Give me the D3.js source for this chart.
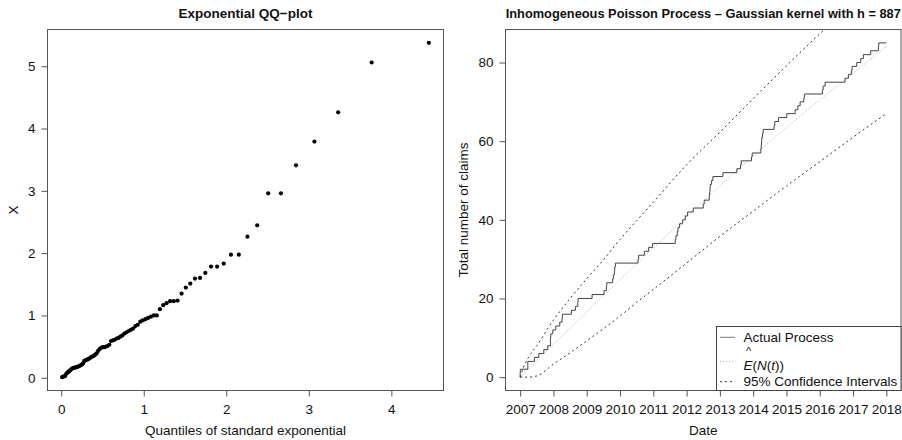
<!DOCTYPE html>
<html>
<head>
<meta charset="utf-8">
<script src="https://cdn.jsdelivr.net/npm/d3@7"></script>
<style>
  body { margin: 0; background: #fff; }
  text { font-family: "Liberation Sans", Arial, Helvetica, sans-serif; fill: #111; }
</style>
</head>
<body>
<div id="chart"></div>
<script>
// left panel: exponential quantiles vs sorted scaled claims
const qqTheoretical = [0.0117, 0.0235, 0.0355, 0.0476, 0.0599, 0.0723, 0.0849, 0.0976, 0.1105, 0.1236,
  0.1369, 0.1503, 0.1639, 0.1777, 0.1917, 0.2059, 0.2202, 0.2348, 0.2497, 0.2647,
  0.2800, 0.2955, 0.3112, 0.3272, 0.3435, 0.3600, 0.3768, 0.3939, 0.4113, 0.4290,
  0.4470, 0.4654, 0.4841, 0.5031, 0.5225, 0.5423, 0.5625, 0.5832, 0.6042, 0.6257,
  0.6477, 0.6702, 0.6932, 0.7167, 0.7408, 0.7655, 0.7908, 0.8168, 0.8434, 0.8708,
  0.8990, 0.9280, 0.9578, 0.9886, 1.0204, 1.0532, 1.0871, 1.1222, 1.1585, 1.1963,
  1.2355, 1.2763, 1.3189, 1.3633, 1.4098, 1.4586, 1.5099, 1.5640, 1.6211, 1.6818,
  1.7463, 1.8153, 1.8894, 1.9694, 2.0565, 2.1518, 2.2571, 2.3749, 2.5084, 2.6626,
  2.8449, 3.0681, 3.3557, 3.7612, 4.4543];
const qqSample = [0.01, 0.02, 0.02, 0.03, 0.06, 0.08, 0.09, 0.11, 0.12, 0.14,
  0.15, 0.16, 0.16, 0.17, 0.17, 0.18, 0.19, 0.20, 0.21, 0.23,
  0.27, 0.28, 0.29, 0.30, 0.31, 0.33, 0.34, 0.35, 0.37, 0.39,
  0.43, 0.46, 0.48, 0.49, 0.49, 0.50, 0.51, 0.53, 0.59, 0.60,
  0.61, 0.63, 0.64, 0.66, 0.68, 0.71, 0.73, 0.75, 0.77, 0.79,
  0.83, 0.85, 0.90, 0.92, 0.94, 0.96, 0.98, 1.00, 1.00, 1.10,
  1.165, 1.197, 1.229, 1.229, 1.239, 1.351, 1.447, 1.512, 1.592, 1.603,
  1.683, 1.784, 1.784, 1.832, 1.976, 1.976, 2.264, 2.447, 2.96, 2.96,
  3.41, 3.79, 4.26, 5.06, 5.375];
const qqXTicks = [0, 1, 2, 3, 4];
const qqYTicks = [0, 1, 2, 3, 4, 5];

// right panel: claim arrival times (decimal years)
const claimTimes = [2007.00, 2007.005, 2007.23, 2007.23, 2007.43, 2007.56, 2007.71, 2007.83, 2007.91, 2007.91,
  2007.92, 2007.98, 2008.07, 2008.19, 2008.26, 2008.27, 2008.54, 2008.66, 2008.73, 2008.74,
  2009.16, 2009.52, 2009.59, 2009.60, 2009.78, 2009.80, 2009.83, 2009.84, 2009.86, 2010.54,
  2010.56, 2010.73, 2010.86, 2010.98, 2011.66, 2011.68, 2011.72, 2011.74, 2011.79, 2011.88,
  2011.96, 2012.03, 2012.20, 2012.50, 2012.53, 2012.68, 2012.69, 2012.70, 2012.71, 2012.75,
  2012.79, 2013.09, 2013.51, 2013.62, 2013.64, 2013.95, 2013.97, 2014.23, 2014.24, 2014.25,
  2014.26, 2014.28, 2014.30, 2014.63, 2014.65, 2014.76, 2015.01, 2015.26, 2015.34, 2015.41,
  2015.52, 2015.54, 2016.08, 2016.10, 2016.16, 2016.76, 2016.86, 2016.95, 2016.97, 2017.11,
  2017.23, 2017.31, 2017.53, 2017.76, 2017.77];
const processEnd = 2018.0;
const fitYears = [2007, 2008, 2009, 2010, 2011, 2012, 2013, 2014, 2015, 2016, 2017, 2018];
const fitMean = [0, 8.3, 16.6, 24.8, 32.8, 40.8, 48.6, 56.2, 63.5, 70.5, 77.3, 84.0];
const ciYears = [2007, 2007.1, 2007.25, 2007.5, 2008, 2008.5, 2009, 2009.5, 2010, 2010.5,
  2011, 2012, 2013, 2014, 2015, 2016, 2017, 2018];
const ciUpper = [0, 2.5, 5, 8, 14.5, 20, 25, 29.8, 35, 39.8, 44.5, 54, 62.3, 70.8, 79.2, 87.3, 95, 102.5];
const ciLower = [0, 0, 0, 0.3, 3.3, 6.2, 9.2, 12.3, 15.5, 19, 22.3, 29, 35.8, 42.2, 48.6, 54.8, 61, 67];
const yearTicks = [2007, 2008, 2009, 2010, 2011, 2012, 2013, 2014, 2015, 2016, 2017, 2018];
const countTicks = [0, 20, 40, 60, 80];

const W = 902, H = 440;
const svg = d3.select("#chart").append("svg").attr("width", W).attr("height", H);

// R style range: data extent widened by 4% each side
function padded(ext) {
  let p = (ext[1] - ext[0]) * 0.04;
  return [ext[0] - p, ext[1] + p];
}

function drawAxes(g, box, x, y, xt, yt) {
  g.append("g")
    .attr("transform", "translate(0," + box.y1 + ")")
    .call(d3.axisBottom(x).tickValues(xt).tickSize(6).tickSizeOuter(0).tickPadding(8).tickFormat(d3.format("d")))
    .call(a => a.select(".domain").remove());
  g.append("g")
    .attr("transform", "translate(" + box.x0 + ",0)")
    .call(d3.axisLeft(y).tickValues(yt).tickSize(6).tickSizeOuter(0).tickPadding(6).tickFormat(d3.format("d")))
    .call(a => a.select(".domain").remove());
  g.selectAll(".tick line").attr("stroke", "#555");
  g.selectAll(".tick text").attr("font-size", "13.5px").attr("fill", "#111")
    .style("font-family", "'Liberation Sans', Arial, sans-serif");
  g.append("rect")
    .attr("x", box.x0).attr("y", box.y0)
    .attr("width", box.x1 - box.x0).attr("height", box.y1 - box.y0)
    .attr("fill", "none").attr("stroke", "#555");
}

// ---- left: QQ plot ----
const boxL = {x0: 47.5, x1: 443.5, y0: 29.5, y1: 390.5};
const xL = d3.scaleLinear().domain(padded(d3.extent(qqTheoretical))).range([boxL.x0, boxL.x1]);
const yL = d3.scaleLinear().domain(padded(d3.extent(qqSample))).range([boxL.y1, boxL.y0]);
const gL = svg.append("g");
drawAxes(gL, boxL, xL, yL, qqXTicks, qqYTicks);

gL.selectAll("circle")
  .data(qqTheoretical.map((q, i) => [q, qqSample[i]]))
  .enter().append("circle")
  .attr("cx", d => xL(d[0]))
  .attr("cy", d => yL(d[1]))
  .attr("r", 2.1)
  .attr("fill", "#000");

gL.append("text").attr("x", (boxL.x0 + boxL.x1) / 2).attr("y", 18)
  .attr("text-anchor", "middle").attr("font-size", "13.5px").attr("font-weight", "bold")
  .text("Exponential QQ\u2212plot");
gL.append("text").attr("x", (boxL.x0 + boxL.x1) / 2).attr("y", 435)
  .attr("text-anchor", "middle").attr("font-size", "13.5px")
  .text("Quantiles of standard exponential");
gL.append("text").attr("transform", "translate(17.5," + (boxL.y0 + boxL.y1) / 2 + ")rotate(-90)")
  .attr("text-anchor", "middle").attr("font-size", "13.5px")
  .text("X");

// ---- right: inhomogeneous Poisson process ----
const boxR = {x0: 505.5, x1: 901, y0: 29.5, y1: 390.5};
const steps = [[claimTimes[0], 0]].concat(claimTimes.map((t, i) => [t, i + 1]), [[processEnd, claimTimes.length]]);
const xR = d3.scaleLinear().domain(padded([claimTimes[0], processEnd])).range([boxR.x0, boxR.x1]);
const yR = d3.scaleLinear().domain(padded([0, claimTimes.length])).range([boxR.y1, boxR.y0]);
const gR = svg.append("g");

svg.append("defs").append("clipPath").attr("id", "clipR")
  .append("rect").attr("x", boxR.x0).attr("y", boxR.y0)
  .attr("width", boxR.x1 - boxR.x0).attr("height", boxR.y1 - boxR.y0);

const lines = gR.append("g").attr("clip-path", "url(#clipR)");
const smooth = d3.line().x(d => xR(d[0])).y(d => yR(d[1])).curve(d3.curveMonotoneX);

lines.append("path")
  .attr("d", smooth(fitYears.map((t, i) => [t, fitMean[i]])))
  .attr("fill", "none").attr("stroke", "#aaa").attr("stroke-width", 1).attr("stroke-dasharray", "1,2");
[ciUpper, ciLower].forEach(ci => {
  lines.append("path")
    .attr("d", smooth(ciYears.map((t, i) => [t, ci[i]])))
    .attr("fill", "none").attr("stroke", "#333").attr("stroke-width", 1).attr("stroke-dasharray", "2,3");
});
lines.append("path")
  .attr("d", d3.line().x(d => xR(d[0])).y(d => yR(d[1])).curve(d3.curveStepAfter)(steps))
  .attr("fill", "none").attr("stroke", "#444").attr("stroke-width", 1);

drawAxes(gR, boxR, xR, yR, yearTicks, countTicks);

gR.append("text").attr("x", (boxR.x0 + boxR.x1) / 2).attr("y", 18)
  .attr("text-anchor", "middle").attr("font-size", "12.8px").attr("font-weight", "bold")
  .text("Inhomogeneous Poisson Process \u2013 Gaussian kernel with h = 887");
gR.append("text").attr("x", (boxR.x0 + boxR.x1) / 2).attr("y", 435)
  .attr("text-anchor", "middle").attr("font-size", "13.5px")
  .text("Date");
gR.append("text").attr("transform", "translate(468," + (boxR.y0 + boxR.y1) / 2 + ")rotate(-90)")
  .attr("text-anchor", "middle").attr("font-size", "13.5px")
  .text("Total number of claims");

// legend
const leg = gR.append("g");
leg.append("rect").attr("x", 716.5).attr("y", 326.5).attr("width", 184.5).attr("height", 64)
  .attr("fill", "#fff").attr("stroke", "#444");
const legRows = [
  {y: 337.3, stroke: "#777", dash: null},
  {y: 361.7, stroke: "#aaa", dash: "1,2"},
  {y: 381.7, stroke: "#333", dash: "2,3"}
];
legRows.forEach(r => {
  leg.append("line").attr("x1", 720).attr("x2", 735).attr("y1", r.y).attr("y2", r.y)
    .attr("stroke", r.stroke).attr("stroke-dasharray", r.dash);
});
leg.append("text").attr("x", 743.5).attr("y", 342).attr("font-size", "13.5px").text("Actual Process");
const eText = leg.append("text").attr("x", 743.5).attr("y", 369.5).attr("font-size", "13.5px");
eText.append("tspan").attr("font-style", "italic").text("E");
eText.append("tspan").text("(");
eText.append("tspan").attr("font-style", "italic").text("N");
eText.append("tspan").text("(");
eText.append("tspan").attr("font-style", "italic").text("t");
eText.append("tspan").text("))");
// hat accent over the E
leg.append("text").attr("x", 748.5).attr("y", 355).attr("text-anchor", "middle")
  .attr("font-size", "11px").text("^");
leg.append("text").attr("x", 743.5).attr("y", 386).attr("font-size", "13.5px").text("95% Confidence Intervals");
</script>
</body>
</html>
